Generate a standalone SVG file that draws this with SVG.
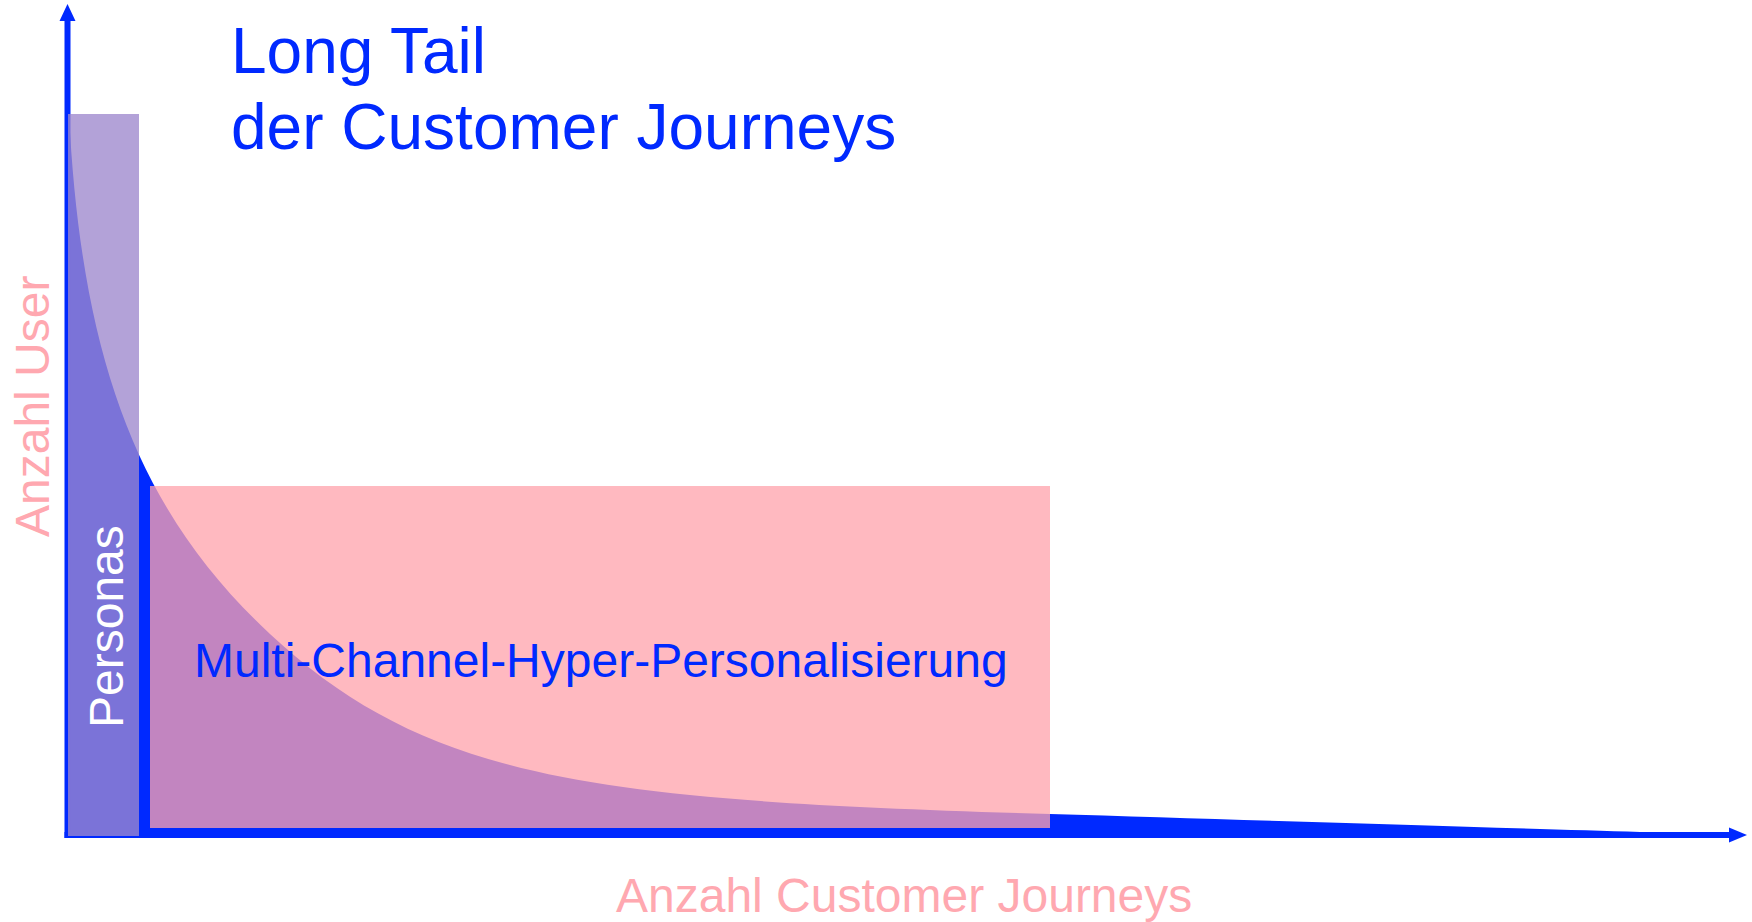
<svg xmlns="http://www.w3.org/2000/svg" width="1752" height="922" viewBox="0 0 1752 922">
<style>
.t{font-family:"Liberation Sans",Arial,sans-serif;}
.blue{fill:#0029ff;}
.pinktxt{fill:#ffa8b0;}
.axis{stroke:#0029ff;stroke-width:6;fill:none;}
</style>
<rect width="1752" height="922" fill="#ffffff"/>
<g id="curve">
<path class="blue" d="M69,114 C81.5,364 140,513 270,634 C430,782.8 600,800.5 1050,814 C1250,820 1500,828 1640,832 L1640,838 L66,838 L66,114 Z"/>
</g>
<g id="connectors">
<line class="axis" x1="67.5" y1="838" x2="67.5" y2="19"/>
<polygon class="blue" points="59.5,21 67.5,4 75.5,21"/>
<line class="axis" x1="64.5" y1="835" x2="1731" y2="835"/>
<polygon class="blue" points="1729,827.5 1747,835 1729,842.5"/>
</g>
<g id="personas">
<rect x="68" y="114" width="71" height="722" fill="#9e88cd" fill-opacity="0.78"/>
<text class="t" transform="translate(122.5,728) rotate(-90)" font-size="48" fill="#ffffff">Personas</text>
</g>
<g id="hyper">
<rect x="150" y="486" width="900" height="342" fill="#ffa3ac" fill-opacity="0.76"/>
<text class="t blue" x="194" y="677" font-size="48">Multi-Channel-Hyper-Personalisierung</text>
</g>
<g id="title">
<text class="t blue" x="231" y="73" font-size="64">Long Tail</text>
<text class="t blue" x="231" y="149" font-size="64">der Customer Journeys</text>
</g>
<g id="y-label">
<text class="t pinktxt" transform="translate(48.5,537) rotate(-90)" font-size="48">Anzahl User</text>
</g>
<g id="x-label">
<text class="t pinktxt" x="616" y="911.5" font-size="48">Anzahl Customer Journeys</text>
</g>
</svg>
